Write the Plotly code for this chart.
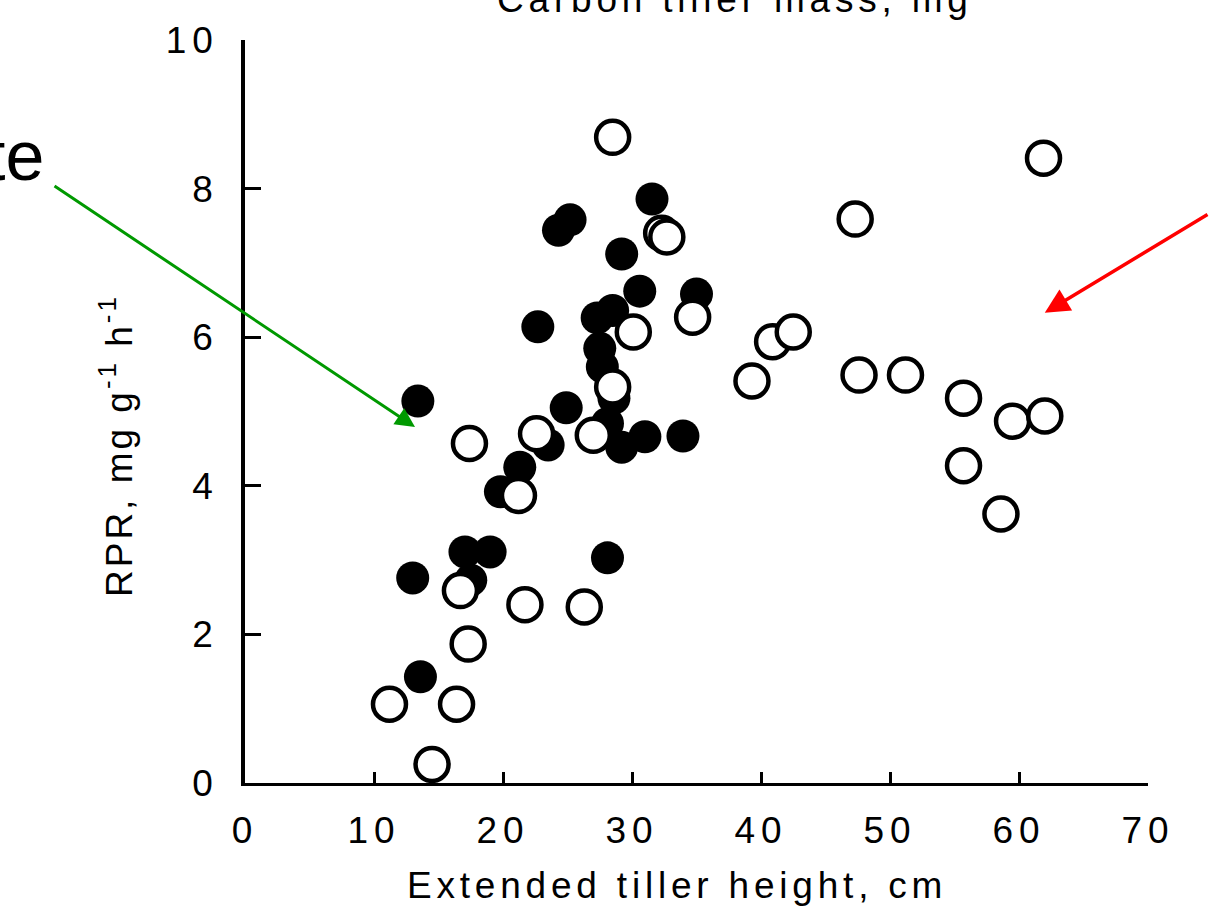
import plotly.graph_objects as go

# ---- data ----
filled_x = [31.55, 25.2, 24.3, 29.2, 30.6, 35.0, 22.7, 27.3, 28.5, 27.5, 27.7, 28.6, 13.4,
            24.9, 28.1, 29.2, 31.0, 33.95, 23.5, 21.3, 19.8, 17.05, 19.0, 13.0, 17.5, 28.1, 13.6]
filled_y = [7.86, 7.58, 7.44, 7.12, 6.62, 6.58, 6.14, 6.26, 6.36, 5.85, 5.60, 5.18, 5.14,
            5.05, 4.84, 4.52, 4.66, 4.67, 4.55, 4.25, 3.92, 3.11, 3.11, 2.76, 2.73, 3.03, 1.43]

open_x = [28.5, 61.9, 47.3, 32.3, 32.7, 34.7, 30.1, 40.9, 42.5, 39.3, 47.6, 51.2, 55.7, 59.5,
          62.0, 55.7, 58.6, 28.5, 27.0, 22.6, 17.4, 21.2, 16.7, 21.7, 26.3, 17.3, 11.2, 16.4, 14.5]
open_y = [8.69, 8.41, 7.59, 7.40, 7.35, 6.27, 6.07, 5.94, 6.07, 5.41, 5.49, 5.49, 5.18, 4.87,
          4.94, 4.27, 3.62, 5.33, 4.68, 4.70, 4.57, 3.87, 2.59, 2.40, 2.37, 1.87, 1.06, 1.06, 0.25]

x_ticks = [0, 10, 20, 30, 40, 50, 60, 70]
y_ticks = [0, 2, 4, 6, 8, 10]

x_title = "Extended tiller height, cm"
y_title = "RPR, mg g<sup>-1</sup> h<sup>-1</sup>"
top_title = "Carbon tiller mass, mg"
left_word = "te"

FONT = "Liberation Sans, Arial, Helvetica, sans-serif"


def spaced(s, px):
    return '<span style="letter-spacing:%spx">%s</span>' % (px, s)


fig = go.Figure()
fig.add_trace(go.Scatter(
    x=filled_x, y=filled_y, mode="markers",
    marker=dict(symbol="circle", size=33, color="black", line=dict(width=0)),
    showlegend=False, hoverinfo="x+y"))
fig.add_trace(go.Scatter(
    x=open_x, y=open_y, mode="markers",
    marker=dict(symbol="circle", size=33, color="white", line=dict(width=4.5, color="black")),
    showlegend=False, hoverinfo="x+y"))

W, H = 1209, 909
ml, mr, mt, mb = 245, 61, 40, 126
pw, ph = W - ml - mr, H - mt - mb


def px2paper(px, py):
    return (px - ml) / pw, (H - mb - py) / ph


annotations = []
# x axis title
ax_, ay_ = px2paper(677, 885)
annotations.append(dict(text=spaced(x_title, 4.8), x=ax_, y=ay_, xref="paper", yref="paper",
                        xanchor="center", yanchor="middle", showarrow=False,
                        font=dict(family=FONT, size=37, color="black")))
# y axis title
ax_, ay_ = px2paper(116, 446)
annotations.append(dict(text=spaced(y_title, 3), x=ax_, y=ay_, xref="paper", yref="paper",
                        xanchor="center", yanchor="middle", textangle=-90, showarrow=False,
                        font=dict(family=FONT, size=37, color="black")))
# top (cut) title
ax_, ay_ = px2paper(735, 0)
annotations.append(dict(text=spaced(top_title, 4.8), x=ax_, y=ay_, xref="paper", yref="paper",
                        xanchor="center", yanchor="middle", showarrow=False,
                        font=dict(family=FONT, size=37, color="black")))
# cut word at left edge
ax_, ay_ = px2paper(46, 156)
annotations.append(dict(text=left_word, x=ax_, y=ay_, xref="paper", yref="paper",
                        xanchor="right", yanchor="middle", showarrow=False,
                        font=dict(family=FONT, size=70, color="black")))
# green arrow (tip in data coords)
annotations.append(dict(text="", x=13.18, y=4.79, xref="x", yref="y",
                        ax=-362, ay=-242, showarrow=True, arrowhead=2, arrowsize=1.3,
                        arrowwidth=3, arrowcolor="#009900", standoff=0))
# red arrow
annotations.append(dict(text="", x=62.0, y=6.33, xref="x", yref="y",
                        ax=178, ay=-99, showarrow=True, arrowhead=2, arrowsize=1.4,
                        arrowwidth=3.5, arrowcolor="#ff0000", standoff=0))

fig.update_layout(
    width=W, height=H,
    margin=dict(l=ml, r=mr, t=mt, b=mb, pad=0),
    paper_bgcolor="white", plot_bgcolor="white",
    font=dict(family=FONT, size=37, color="black"),
    annotations=annotations,
    xaxis=dict(range=[0, 70], tickvals=x_ticks, ticktext=[spaced(str(v), 6) for v in x_ticks],
               ticks="inside", ticklen=11, tickwidth=3, tickcolor="black",
               showline=True, linewidth=3, linecolor="black",
               showgrid=False, zeroline=False, ticklabelstandoff=13,
               tickfont=dict(family=FONT, size=37, color="black")),
    yaxis=dict(range=[0, 10], tickvals=y_ticks, ticktext=[spaced(str(v), 6) for v in y_ticks],
               ticks="inside", ticklen=16, tickwidth=3, tickcolor="black",
               showline=True, linewidth=3.5, linecolor="black",
               showgrid=False, zeroline=False, ticklabelstandoff=15,
               tickfont=dict(family=FONT, size=37, color="black")),
)

fig.write_html("out.html")
